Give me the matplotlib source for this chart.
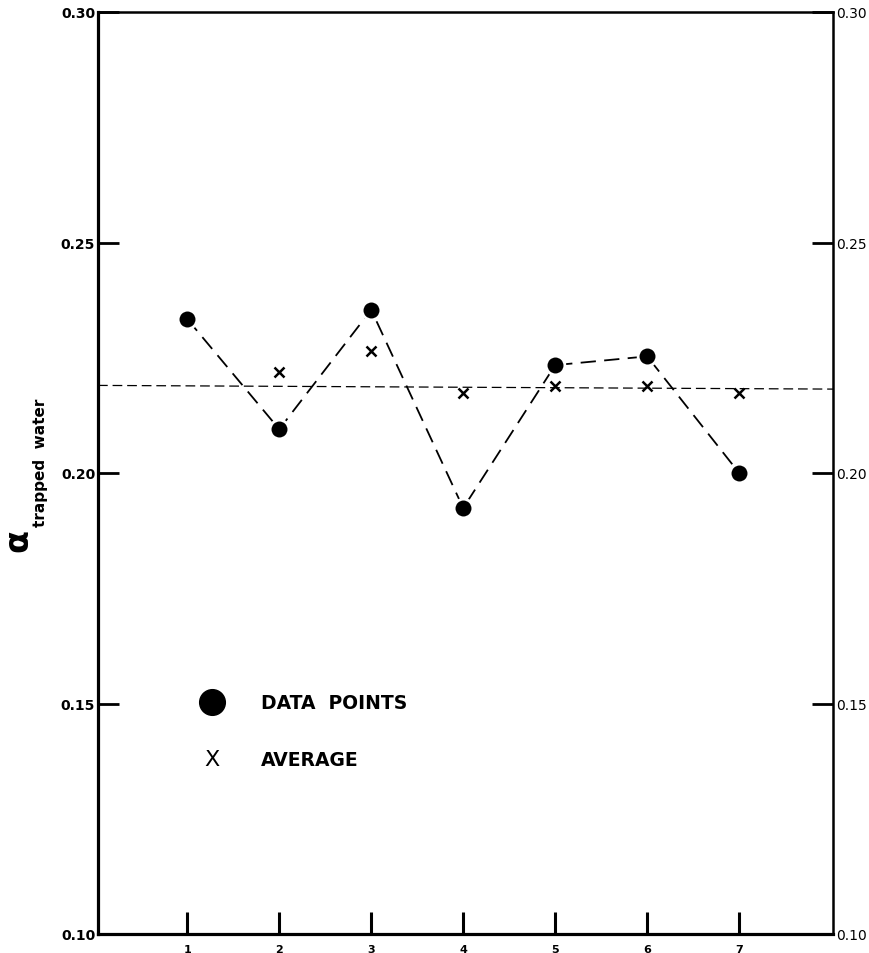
import matplotlib
matplotlib.use("Agg")
import matplotlib.pyplot as plt

plt.rcParams['font.family'] = ['DejaVu Sans']
plt.rcParams['lines.scale_dashes'] = False

# ---- data ----
run = [1, 2, 3, 4, 5, 6, 7]
alpha_points = [0.2334, 0.2095, 0.2354, 0.1924, 0.2234, 0.2253, 0.2000]
avg_run = [2, 3, 4, 5, 6, 7]
avg_values = [0.2219, 0.2264, 0.2173, 0.2189, 0.2188, 0.2173]
avg_line_x = [0.03, 8.02]
avg_line_y = [0.2190, 0.2182]
yticks = [0.10, 0.15, 0.20, 0.25, 0.30]
ytick_labels = ['0.10', '0.15', '0.20', '0.25', '0.30']
xticks = [1, 2, 3, 4, 5, 6, 7]
legend_labels = ['DATA POINTS', 'AVERAGE']

W, H = 869, 954
fig = plt.figure(figsize=(W / 100, H / 100), dpi=100)
ax = fig.add_axes([98 / W, 19 / H, 735 / W, 922 / H])

ax.set_xlim(0.03, 8.02)
ax.set_ylim(0.10, 0.30)

# average reference line
ax.plot(avg_line_x, avg_line_y, color='black', lw=0.9, dashes=(7, 3.5), zorder=2)

# data line
ax.plot(run, alpha_points, color='black', lw=1.3, dashes=(11, 6), zorder=3)
ax.plot(run, alpha_points, linestyle='none', marker='o', ms=13.5,
        mfc='black', mec='white', mew=2.0, zorder=4)

# averages
ax.plot(avg_run, avg_values, linestyle='none', marker='x', ms=6.5,
        mec='black', mew=1.8, zorder=5)

# spines
for side, lw in [('left', 2.3), ('bottom', 2.3), ('top', 1.8), ('right', 1.8)]:
    ax.spines[side].set_linewidth(lw)
    ax.spines[side].set_color('black')

ax.set_yticks(yticks)
ax.set_yticklabels(ytick_labels)
ax.set_xticks(xticks)
ax.set_xticklabels([str(v) for v in xticks])

ax.tick_params(axis='y', which='both', direction='in', length=15, width=2,
               left=True, right=True, labelleft=True, labelright=True, pad=2)
ax.tick_params(axis='x', direction='in', length=16, width=2.2, pad=7,
               labelsize=8)
for lab in ax.get_xticklabels():
    lab.set_fontweight('bold')
for t in ax.yaxis.get_major_ticks():
    t.label1.set_fontsize(10)
    t.label1.set_fontweight('bold')
    t.label2.set_fontsize(10)
    t.label2.set_fontweight('normal')

# legend (drawn manually)
ax.plot([0.155], [0.2516], transform=ax.transAxes, marker='o', ms=18.5,
        color='black', linestyle='none', clip_on=False)
ax.text(0.155, 0.1898, 'X', transform=ax.transAxes, fontsize=16,
        ha='center', va='center')
ax.text(0.222, 0.2516, legend_labels[0].replace(' ', '  '), transform=ax.transAxes,
        fontsize=13.5, fontweight='bold', ha='left', va='center')
ax.text(0.222, 0.1898, legend_labels[1], transform=ax.transAxes,
        fontsize=13.5, fontweight='bold', ha='left', va='center')

# y label
fig.text(18 / W, 1 - 541 / H, 'α', fontsize=24, rotation=90,
         ha='center', va='center', fontweight='bold')
fig.text(40 / W, 1 - 463 / H, 'trapped  water', fontsize=11, rotation=90,
         ha='center', va='center', fontweight='bold')

fig.savefig('out.png', dpi=100)
